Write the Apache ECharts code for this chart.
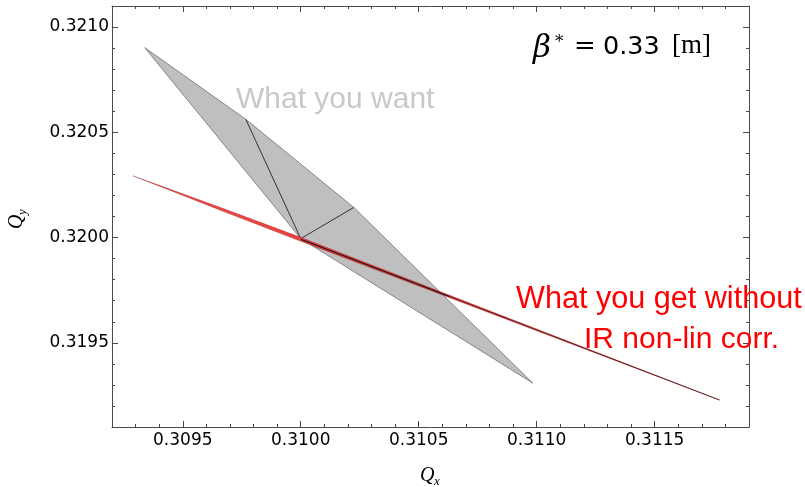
<!DOCTYPE html>
<html>
<head>
<meta charset="utf-8">
<script src="https://cdn.jsdelivr.net/npm/echarts@6/dist/echarts.min.js"></script>
<style>
  html, body { margin: 0; padding: 0; background: #ffffff; }
  #chart { width: 805px; height: 487px; }
</style>
</head>
<body>
<div id="chart"></div>
<script>
// ---- axis ticks ----
const xMajorTicks = [0.3095, 0.3100, 0.3105, 0.3110, 0.3115];
const xMinorTicks = [0.3093, 0.3094, 0.3096, 0.3097, 0.3098, 0.3099, 0.3101, 0.3102, 0.3103, 0.3104,
                     0.3106, 0.3107, 0.3108, 0.3109, 0.3111, 0.3112, 0.3113, 0.3114, 0.3116, 0.3117, 0.3118];
const yMajorTicks = [0.3195, 0.3200, 0.3205, 0.3210];
const yMinorTicks = [0.3192, 0.3193, 0.3194, 0.3196, 0.3197, 0.3198, 0.3199, 0.3201, 0.3202, 0.3203, 0.3204,
                     0.3206, 0.3207, 0.3208, 0.3209];

// ---- "What you want" footprint (outline A-B-C-D-E) ----
const wantQx = [0.309339, 0.309767, 0.310225, 0.310983, 0.310000];
const wantQy = [0.320902, 0.320562, 0.320143, 0.319309, 0.319995];
// inner mesh lines B-E-C
const wantInnerQx = [0.309767, 0.310000, 0.310225];
const wantInnerQy = [0.320562, 0.319995, 0.320143];

// ---- "What you get" footprint (thin band) ----
const getBandQx = [0.309289, 0.309657, 0.310000, 0.310631, 0.311775, 0.310631, 0.310000, 0.309657];
const getBandQy = [0.320293, 0.3201445, 0.3200010, 0.3197262, 0.3192282, 0.3197137, 0.3199823, 0.3201309];
// dark core line (black part near the bare tune)
const getCoreQx = [0.310000, 0.310631];
const getCoreQy = [0.3199915, 0.3197200];
// dark outer part of the band
const getTailQx = [0.310631, 0.311775];
const getTailQy = [0.3197200, 0.3192282];

const zip = (xs, ys) => xs.map((x, i) => [x, ys[i]]);

function polygonSeries(name, pts, fill, stroke, lw, z) {
  return {
    name: name,
    type: 'custom',
    coordinateSystem: 'cartesian2d',
    xAxisIndex: 0, yAxisIndex: 0,
    silent: true,
    z: z,
    data: [pts[0]],
    renderItem: function (params, api) {
      const points = pts.map(p => api.coord(p));
      return {
        type: 'polygon',
        shape: { points: points },
        style: { fill: fill, stroke: stroke, lineWidth: lw }
      };
    }
  };
}

const chart = echarts.init(document.getElementById('chart'), null, { renderer: 'canvas' });

const axisColor = '#4a4a4a';
const X_MIN = 0.3092, X_MAX = 0.3119, Y_MIN = 0.3191, Y_MAX = 0.3211;

function xAx(pos, ticks, len, showLine, showLabel) {
  return {
    type: 'value', position: pos, min: X_MIN, max: X_MAX, gridIndex: 0,
    axisLine: { show: showLine, onZero: false, lineStyle: { color: axisColor, width: 1 } },
    axisTick: { show: true, inside: true, length: len, customValues: ticks, lineStyle: { color: axisColor, width: 1 } },
    axisLabel: showLabel ? {
      show: true, customValues: ticks, margin: 5,
      fontFamily: 'DejaVu Sans', fontSize: 17, color: '#000',
      formatter: v => Number(v).toFixed(4)
    } : { show: false },
    splitLine: { show: false }
  };
}
function yAx(pos, ticks, len, showLine, showLabel) {
  return {
    type: 'value', position: pos, min: Y_MIN, max: Y_MAX, gridIndex: 0,
    axisLine: { show: showLine, onZero: false, lineStyle: { color: axisColor, width: 1 } },
    axisTick: { show: true, inside: true, length: len, customValues: ticks, lineStyle: { color: axisColor, width: 1 } },
    axisLabel: showLabel ? {
      show: true, customValues: ticks, margin: 3,
      fontFamily: 'DejaVu Sans', fontSize: 17, color: '#000',
      formatter: v => Number(v).toFixed(4)
    } : { show: false },
    splitLine: { show: false }
  };
}

const option = {
  animation: false,
  backgroundColor: '#ffffff',
  grid: { left: 112, top: 6, width: 637, height: 421, containLabel: false },
  xAxis: [
    xAx('bottom', xMajorTicks, 6, true, true),
    xAx('bottom', xMinorTicks, 3, false, false),
    xAx('top', xMajorTicks, 6, true, false),
    xAx('top', xMinorTicks, 3, false, false)
  ],
  yAxis: [
    yAx('left', yMajorTicks, 6, true, true),
    yAx('left', yMinorTicks, 3, false, false),
    yAx('right', yMajorTicks, 6, true, false),
    yAx('right', yMinorTicks, 3, false, false)
  ],
  series: [
    polygonSeries('What you want', zip(wantQx, wantQy), '#bfbfbf', '#6e6e6e', 0.8, 2),
    {
      name: 'want inner', type: 'line', xAxisIndex: 0, yAxisIndex: 0, silent: true, z: 3,
      data: zip(wantInnerQx, wantInnerQy), symbol: 'none',
      lineStyle: { color: '#333333', width: 1 }
    },
    polygonSeries('What you get', zip(getBandQx, getBandQy), '#ee4444', 'rgba(110,0,0,0.55)', 0.5, 4),
    {
      name: 'get core', type: 'line', xAxisIndex: 0, yAxisIndex: 0, silent: true, z: 5,
      data: zip(getCoreQx, getCoreQy), symbol: 'none',
      lineStyle: { color: '#111111', width: 1.1 }
    },
    {
      name: 'get tail', type: 'line', xAxisIndex: 0, yAxisIndex: 0, silent: true, z: 5,
      data: zip(getTailQx, getTailQy), symbol: 'none',
      lineStyle: { color: 'rgba(70,15,15,0.75)', width: 1 }
    }
  ],
  graphic: [
    { type: 'text', left: 236, top: 85, z: 10, silent: true,
      style: { text: 'What you want', fill: '#c8c8c8', font: '30px "Liberation Sans"' } },
    { type: 'text', left: 516, top: 284, z: 10, silent: true,
      style: { text: 'What you get without', fill: '#ff0000', font: '30.6px "Liberation Sans"' } },
    { type: 'text', left: 584, top: 325, z: 10, silent: true,
      style: { text: 'IR non-lin corr.', fill: '#ff0000', font: '30px "Liberation Sans"' } },
    // beta* = 0.33 [m]
    { type: 'text', left: 533, top: 33, z: 10, silent: true,
      style: { text: 'β', fill: '#000', font: 'italic 31px "DejaVu Serif"' } },
    { type: 'text', left: 555, top: 34, z: 10, silent: true,
      style: { text: '*', fill: '#000', font: '17px "DejaVu Serif"' } },
    { type: 'text', left: 574, top: 34, z: 10, silent: true,
      style: { text: '=', fill: '#000', font: '26px "DejaVu Serif"' } },
    { type: 'text', left: 603, top: 34, z: 10, silent: true,
      style: { text: '0.33', fill: '#000', font: '25.5px "DejaVu Sans"' } },
    { type: 'text', left: 672, top: 32, z: 10, silent: true,
      style: { text: '[m]', fill: '#000', font: '27px "Liberation Serif"' } },
    // Q_x
    { type: 'text', left: 420, top: 466, z: 10, silent: true,
      style: { text: 'Q', fill: '#000', font: 'italic 20px "Liberation Serif"' } },
    { type: 'text', left: 434, top: 475, z: 10, silent: true,
      style: { text: 'x', fill: '#000', font: 'italic 13px "Liberation Serif"' } },
    // Q_y (rotated)
    { type: 'group', x: 17, y: 220, rotation: Math.PI / 2, z: 10, silent: true,
      children: [
        { type: 'text', x: -9, y: -10, style: { text: 'Q', fill: '#000', font: 'italic 20px "Liberation Serif"' } },
        { type: 'text', x: 5, y: -1, style: { text: 'y', fill: '#000', font: 'italic 13px "Liberation Serif"' } }
      ] }
  ]
};

chart.setOption(option);
</script>
</body>
</html>
